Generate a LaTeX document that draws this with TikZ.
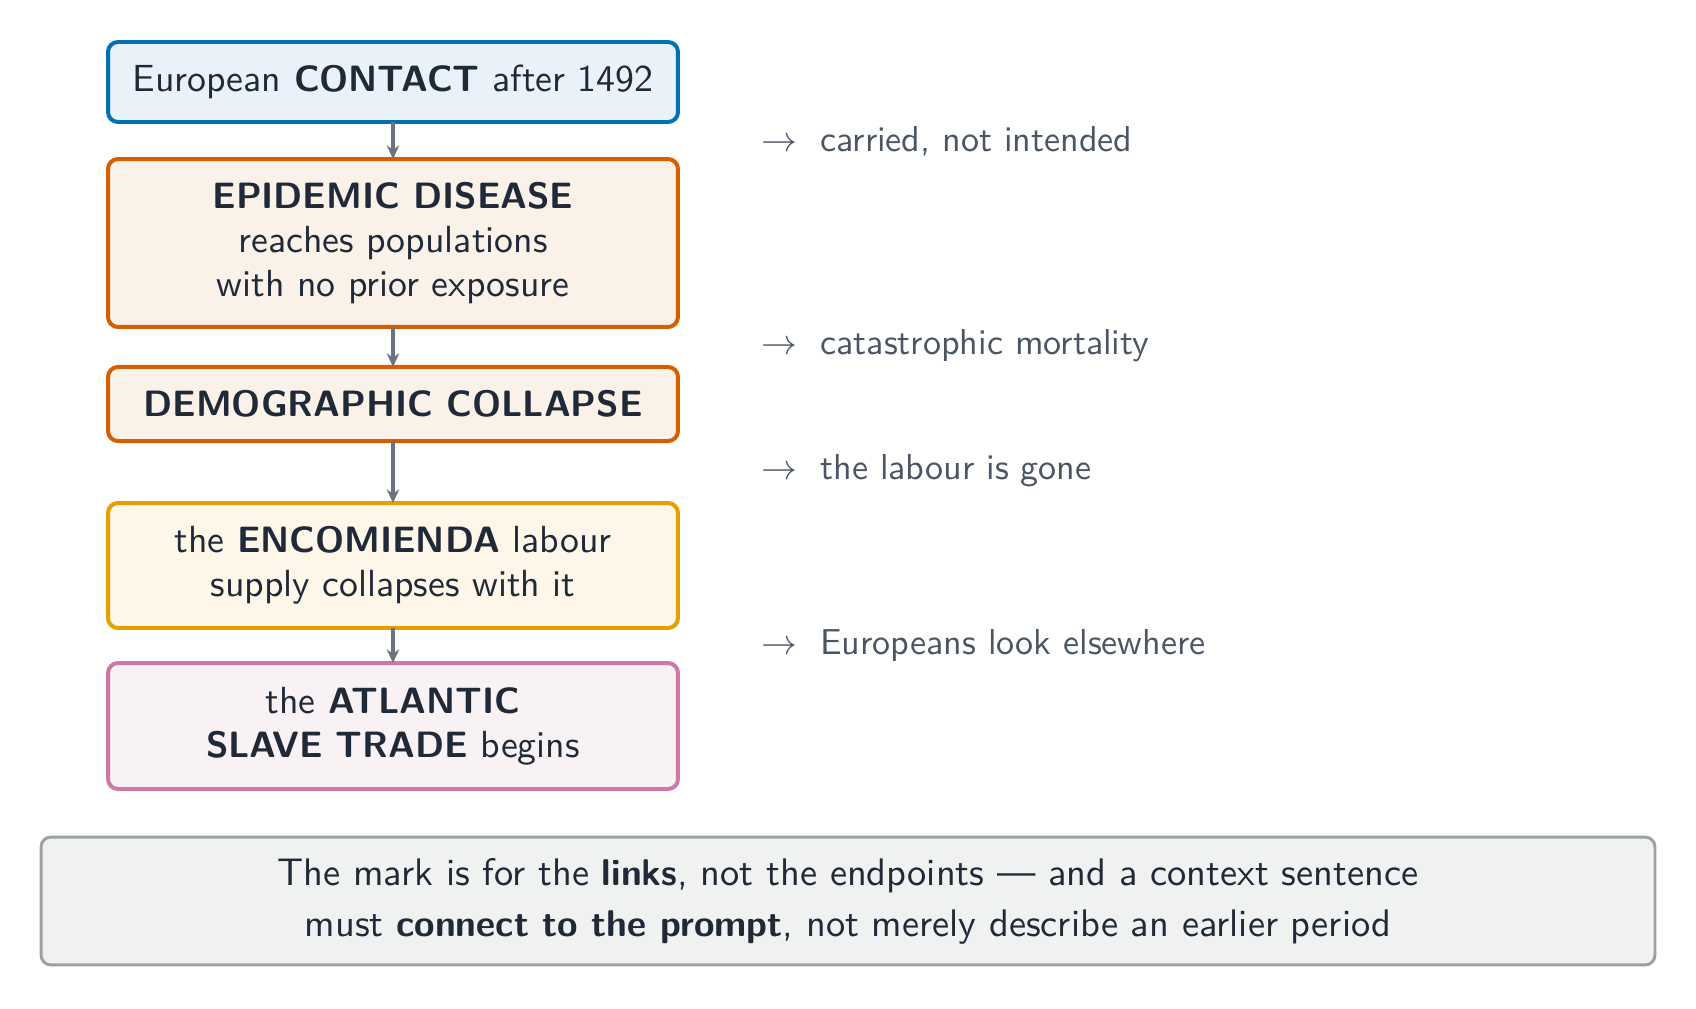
\documentclass[tikz,border=0pt]{standalone}
\usepackage{fontspec}
\setsansfont{lmsans10-regular.otf}[BoldFont=lmsans10-bold.otf, BoldFeatures={Scale=0.97}]
\usetikzlibrary{arrows.meta}
\definecolor{ink}{HTML}{1F2937}
\definecolor{muted}{HTML}{4B5563}
\definecolor{arrowgray}{HTML}{6B7280}
\definecolor{blueE}{HTML}{0072B2}
\definecolor{blueF}{HTML}{E9F2F8}
\definecolor{vermE}{HTML}{D55E00}
\definecolor{vermF}{HTML}{FAF1E9}
\definecolor{orE}{HTML}{E69F00}
\definecolor{orF}{HTML}{FDF6E9}
\definecolor{pinkE}{HTML}{CC79A7}
\definecolor{pinkF}{HTML}{F9F2F5}
\definecolor{noteE}{HTML}{9CA0A8}
\definecolor{noteF}{HTML}{F0F2F2}
\tikzset{
  x=0.4025pt, y=-0.4025pt,
  flowbox/.style={draw, line width=1.6pt, rounded corners=4pt, align=center,
    minimum width=229.4pt, inner sep=0pt, outer sep=0pt, text=ink,
    font=\sffamily\fontsize{15.2}{17.7}\selectfont},
  flowarrow/.style={draw=arrowgray, line width=1.5pt, -{Stealth[length=5.5pt,width=5pt]}},
  sidelabel/.style={anchor=west, inner sep=0pt, text=muted,
    font=\sffamily\fontsize{14.5}{17.7}\selectfont},
  notebox/.style={draw=noteE, fill=noteF, line width=1.2pt, rounded corners=4pt, align=center,
    minimum width=649.6pt, minimum height=51.5pt, inner sep=0pt, text=ink,
    font=\sffamily\fontsize{15.45}{20.5}\selectfont}
}
\begin{document}
\begin{tikzpicture}
\useasboundingbox (0,0) rectangle (1696,1008);
\node[flowbox, draw=blueE, fill=blueF, minimum height=32.2pt] (contact) at (393,82)
  {European \textbf{CONTACT} after 1492};
\node[flowbox, draw=vermE, fill=vermF, minimum height=67.6pt] (disease) at (393,243)
  {\textbf{EPIDEMIC DISEASE}\\reaches populations\\with no prior exposure};
\node[flowbox, draw=vermE, fill=vermF, minimum height=29.8pt] (demo) at (393,404)
  {\textbf{DEMOGRAPHIC COLLAPSE}};
\node[flowbox, draw=orE, fill=orF, minimum height=50.3pt] (enco) at (393,565.5)
  {the \textbf{ENCOMIENDA} labour\\supply collapses with it};
\node[flowbox, draw=pinkE, fill=pinkF, minimum height=50.7pt] (slave) at (393,726)
  {the \textbf{ATLANTIC}\\\textbf{SLAVE TRADE} begins};
\draw[flowarrow] (contact) -- (disease);
\draw[flowarrow] (disease) -- (demo);
\draw[flowarrow] (demo) -- (enco);
\draw[flowarrow] (enco) -- (slave);
\node[sidelabel] (l1) at (761,141) {$\rightarrow$\hspace{9.3pt}carried, not intended};
\node[sidelabel] (l2) at (761,346) {$\rightarrow$\hspace{9.3pt}catastrophic mortality};
\node[sidelabel] (l3) at (761,471) {$\rightarrow$\hspace{9.3pt}the labour is gone};
\node[sidelabel] (l4) at (761,645) {$\rightarrow$\hspace{9.3pt}Europeans look elsewhere};
\node[notebox] (note) at (848,901)
  {The mark is for the \textbf{links}, not the endpoints --- and a context sentence\\
   must \textbf{connect to the prompt}, not merely describe an earlier period};
\end{tikzpicture}
\end{document}
